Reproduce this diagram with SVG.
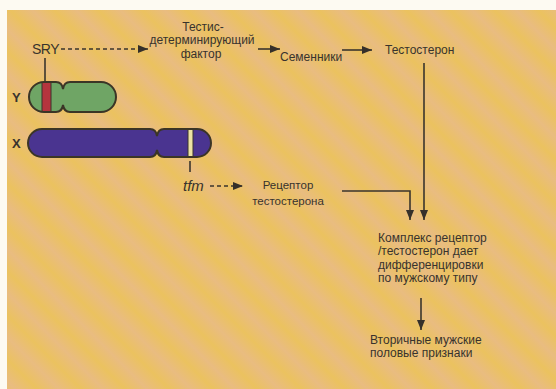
<svg xmlns="http://www.w3.org/2000/svg" width="556" height="389" viewBox="0 0 556 389">
  <defs>
    <linearGradient id="paper" gradientUnits="userSpaceOnUse" x1="0" y1="0" x2="22" y2="-22" spreadMethod="repeat">
      <stop offset="0" stop-color="#ebc25f"/>
      <stop offset="0.5" stop-color="#e9bc80"/>
      <stop offset="1" stop-color="#ebc25f"/>
    </linearGradient>
    <marker id="tri" viewBox="0 0 10 8" refX="10" refY="4" markerWidth="10" markerHeight="8" markerUnits="userSpaceOnUse" orient="auto">
      <path d="M0,0 L10,4 L0,8 Z" fill="#35302a"/>
    </marker>
    <clipPath id="yclip">
      <path d="M44,82 H56 Q62,82 63,89 Q64,82 70,82 H101 A15,15 0 0 1 101,112 H70 Q64,112 63,105 Q62,112 56,112 H44 A15,15 0 0 1 44,82 Z"/>
    </clipPath>
    <clipPath id="xclip">
      <path d="M42,129 H150 Q156,129 157,136 Q158,129 164,129 H197 A14,14 0 0 1 197,157 H164 Q158,157 157,150 Q156,157 150,157 H42 A14,14 0 0 1 42,129 Z"/>
    </clipPath>
  </defs>
  <style>
    .t { font-family: "Liberation Sans", Arial, sans-serif; font-size: 12px; fill: #38332d; }
    .c { text-anchor: middle; }
    .ln { stroke: #3a352d; stroke-width: 1.6; fill: none; }
    .dash { stroke-dasharray: 4 3; }
  </style>

  <!-- page and paper background -->
  <rect x="0" y="0" width="556" height="389" fill="#fdfaf2"/>
  <rect x="7" y="10" width="549" height="379" fill="url(#paper)"/>

  <!-- connectors -->
  <g id="connectors">
    <line class="ln dash" x1="61" y1="49" x2="148" y2="49" marker-end="url(#tri)"/>
    <line class="ln" x1="258" y1="49" x2="280" y2="49" marker-end="url(#tri)"/>
    <line class="ln" x1="342" y1="50" x2="372" y2="50" marker-end="url(#tri)"/>
    <line class="ln" x1="424" y1="63" x2="424" y2="220" marker-end="url(#tri)"/>
    <polyline class="ln" points="342,191 410,191 410,220" marker-end="url(#tri)"/>
    <line class="ln dash" x1="210" y1="186" x2="243" y2="186" marker-end="url(#tri)"/>
    <line class="ln" x1="421" y1="298" x2="421" y2="330" marker-end="url(#tri)"/>
    <line class="ln" x1="45" y1="58" x2="45" y2="82"/>
    <line class="ln" x1="190" y1="161" x2="190" y2="172"/>
  </g>

  <!-- Y chromosome -->
  <g id="chromosome-y">
    <text class="t" x="12" y="102" style="font-size:13px;font-weight:bold">Y</text>
    <path d="M44,82 H56 Q62,82 63,89 Q64,82 70,82 H101 A15,15 0 0 1 101,112 H70 Q64,112 63,105 Q62,112 56,112 H44 A15,15 0 0 1 44,82 Z" fill="#6fa565"/>
    <rect x="42" y="80" width="9" height="34" fill="#b5353e" stroke="#3a352d" stroke-width="1" clip-path="url(#yclip)"/>
    <path d="M44,82 H56 Q62,82 63,89 Q64,82 70,82 H101 A15,15 0 0 1 101,112 H70 Q64,112 63,105 Q62,112 56,112 H44 A15,15 0 0 1 44,82 Z" fill="none" stroke="#3b3526" stroke-width="2"/>
  </g>

  <!-- X chromosome -->
  <g id="chromosome-x">
    <text class="t" x="12" y="148" style="font-size:13px;font-weight:bold">X</text>
    <path d="M42,129 H150 Q156,129 157,136 Q158,129 164,129 H197 A14,14 0 0 1 197,157 H164 Q158,157 157,150 Q156,157 150,157 H42 A14,14 0 0 1 42,129 Z" fill="#4a3490"/>
    <rect x="188" y="127" width="5" height="32" fill="#ece2a4" stroke="#3a352d" stroke-width="1" clip-path="url(#xclip)"/>
    <path d="M42,129 H150 Q156,129 157,136 Q158,129 164,129 H197 A14,14 0 0 1 197,157 H164 Q158,157 157,150 Q156,157 150,157 H42 A14,14 0 0 1 42,129 Z" fill="none" stroke="#3b3526" stroke-width="2"/>
  </g>

  <g id="sry">
    <text class="t" x="32" y="54" style="font-size:14px;letter-spacing:-0.5px">SRY</text>
  </g>

  <g id="tdf">
    <text class="t c" x="203" y="31">Тестис-</text>
    <text class="t c" x="202" y="44">детерминирующий</text>
    <text class="t c" x="201" y="58">фактор</text>
  </g>

  <g id="testes">
    <text class="t" x="280" y="61">Семенники</text>
  </g>

  <g id="testosterone">
    <text class="t" x="385" y="54">Тестостерон</text>
  </g>

  <g id="tfm">
    <text class="t" x="183" y="191" style="font-size:15px;font-style:italic">tfm</text>
  </g>

  <g id="receptor">
    <text class="t c" x="288" y="189" style="font-size:11.5px">Рецептор</text>
    <text class="t c" x="288" y="205" style="font-size:11.5px">тестостерона</text>
  </g>

  <g id="complex">
    <text class="t" x="378" y="242">Комплекс рецептор</text>
    <text class="t" x="378" y="255">/тестостерон дает</text>
    <text class="t" x="378" y="269">дифференцировки</text>
    <text class="t" x="378" y="282">по мужскому типу</text>
  </g>

  <g id="secondary">
    <text class="t" x="370" y="344">Вторичные мужские</text>
    <text class="t" x="370" y="357">половые признаки</text>
  </g>
</svg>
